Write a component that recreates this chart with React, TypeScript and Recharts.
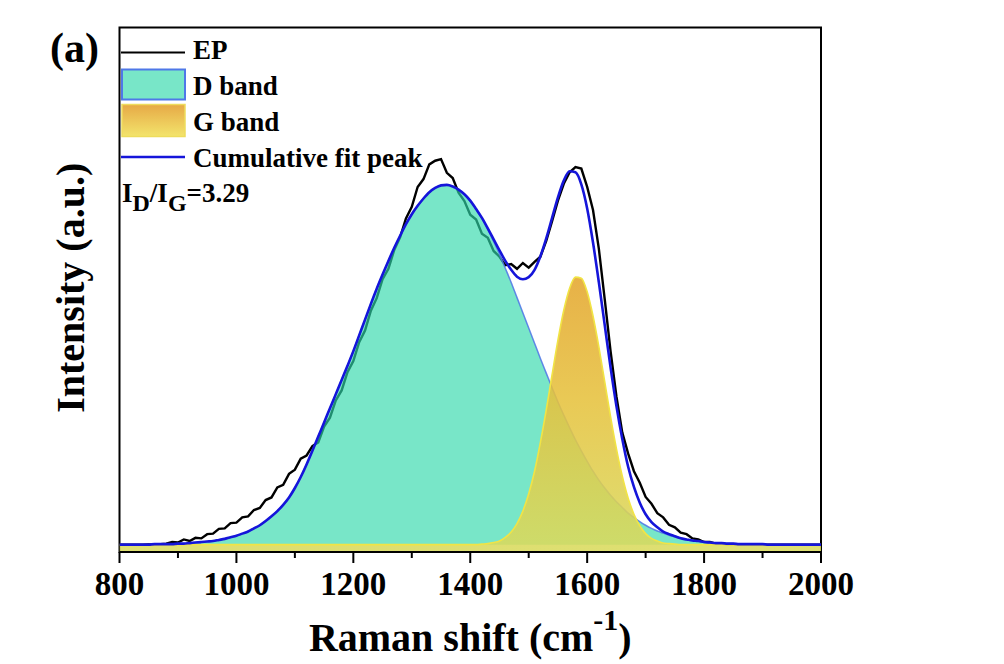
import { Area, ComposedChart, Legend, Line, ReferenceArea, XAxis, YAxis } from "recharts";

const FONT = "'Liberation Serif', 'Times New Roman', Times, serif";

// Raman shift grid (cm-1)
const ramanShift = [
  800, 810, 820, 830, 840, 850, 860, 870, 880, 890,
  900, 910, 920, 930, 940, 950, 960, 970, 980, 990,
  1000, 1010, 1020, 1030, 1040, 1050, 1060, 1070, 1080, 1090,
  1100, 1110, 1120, 1130, 1140, 1150, 1160, 1170, 1180, 1190,
  1200, 1210, 1220, 1230, 1240, 1250, 1260, 1270, 1280, 1290,
  1300, 1310, 1320, 1330, 1340, 1350, 1360, 1370, 1380, 1390,
  1400, 1410, 1420, 1430, 1440, 1450, 1460, 1470, 1480, 1490,
  1500, 1510, 1520, 1530, 1540, 1550, 1560, 1570, 1580, 1590,
  1600, 1610, 1620, 1630, 1640, 1650, 1660, 1670, 1680, 1690,
  1700, 1710, 1720, 1730, 1740, 1750, 1760, 1770, 1780, 1790,
  1800, 1810, 1820, 1830, 1840, 1850, 1860, 1870, 1880, 1890,
  1900, 1910, 1920, 1930, 1940, 1950, 1960, 1970, 1980, 1990,
  2000,
];

// measured spectrum (EP)
const epIntensity = [
  1.4, 1.4, 1.4, 1.4, 1.4, 1.5, 1.4, 1.5, 1.6, 1.9,
  1.8, 2.4, 2.1, 2.7, 2.6, 3.4, 3.5, 4.4, 4.5, 5.5,
  5.6, 6.6, 6.8, 8.0, 8.4, 9.9, 10.4, 12.3, 12.8, 14.9,
  15.7, 17.8, 18.4, 20.2, 20.9, 23.9, 25.6, 28.9, 30.8, 34.3,
  36.4, 40.0, 42.2, 46.0, 48.4, 52.0, 54.0, 57.6, 60.0, 63.6,
  65.8, 69.6, 71.1, 73.9, 74.6, 74.9, 72.3, 71.3, 68.5, 66.9,
  64.3, 63.4, 60.7, 59.9, 57.4, 56.3, 54.7, 54.9, 54.0, 55.1,
  54.2, 55.3, 56.3, 59.3, 63.1, 67.0, 70.2, 72.4, 73.4, 73.1,
  69.6, 65.2, 57.8, 48.2, 38.3, 29.7, 22.8, 18.8, 15.4, 13.2,
  10.5, 9.2, 7.4, 6.6, 5.2, 4.7, 3.7, 3.4, 2.6, 2.4,
  1.9, 1.9, 1.6, 1.6, 1.4, 1.5, 1.4, 1.4, 1.4, 1.4,
  1.4, 1.4, 1.4, 1.4, 1.4, 1.4, 1.4, 1.4, 1.4, 1.4,
  1.4,
];

// fitted D band
const dBand = [
  1.4, 1.4, 1.4, 1.4, 1.4, 1.4, 1.5, 1.5, 1.5, 1.5,
  1.6, 1.6, 1.7, 1.8, 1.9, 2.0, 2.1, 2.3, 2.5, 2.8,
  3.1, 3.5, 3.9, 4.5, 5.1, 5.9, 6.8, 7.8, 9.0, 10.4,
  12.2, 14.3, 16.7, 19.3, 22.0, 24.7, 27.4, 30.1, 32.8, 35.5,
  38.3, 41.3, 44.3, 47.3, 50.2, 52.9, 55.5, 58.0, 60.3, 62.5,
  64.4, 66.0, 67.4, 68.6, 69.4, 69.9, 70.0, 69.7, 69.1, 68.2,
  66.9, 65.4, 63.6, 61.5, 59.2, 56.8, 54.1, 51.4, 48.5, 45.6,
  42.7, 39.8, 36.9, 34.1, 31.3, 28.6, 26.1, 23.7, 21.4, 19.3,
  17.3, 15.4, 13.7, 12.2, 10.8, 9.6, 8.5, 7.4, 6.6, 5.8,
  5.1, 4.5, 4.0, 3.6, 3.2, 2.9, 2.6, 2.4, 2.2, 2.1,
  1.9, 1.8, 1.7, 1.7, 1.6, 1.6, 1.5, 1.5, 1.5, 1.5,
  1.5, 1.4, 1.4, 1.4, 1.4, 1.4, 1.4, 1.4, 1.4, 1.4,
  1.4,
];

// fitted G band
const gBand = [
  1.4, 1.4, 1.4, 1.4, 1.4, 1.4, 1.4, 1.4, 1.4, 1.4,
  1.4, 1.4, 1.4, 1.4, 1.4, 1.4, 1.4, 1.4, 1.4, 1.4,
  1.4, 1.4, 1.4, 1.4, 1.4, 1.4, 1.4, 1.4, 1.4, 1.4,
  1.4, 1.4, 1.4, 1.4, 1.4, 1.4, 1.4, 1.4, 1.4, 1.4,
  1.4, 1.4, 1.4, 1.4, 1.4, 1.4, 1.4, 1.4, 1.4, 1.4,
  1.4, 1.4, 1.4, 1.4, 1.4, 1.4, 1.4, 1.4, 1.4, 1.4,
  1.4, 1.4, 1.5, 1.6, 1.8, 2.1, 2.8, 3.8, 5.4, 7.8,
  11.1, 15.4, 20.9, 27.1, 33.8, 40.4, 46.1, 50.3, 52.4, 52.2,
  49.6, 45.0, 39.1, 32.5, 25.8, 19.7, 14.5, 10.3, 7.2, 5.0,
  3.5, 2.6, 2.1, 1.7, 1.6, 1.5, 1.4, 1.4, 1.4, 1.4,
  1.4, 1.4, 1.4, 1.4, 1.4, 1.4, 1.4, 1.4, 1.4, 1.4,
  1.4, 1.4, 1.4, 1.4, 1.4, 1.4, 1.4, 1.4, 1.4, 1.4,
  1.4,
];

// cumulative fit peak
const cumulativeFit = [
  1.4, 1.4, 1.4, 1.4, 1.4, 1.4, 1.5, 1.5, 1.5, 1.5,
  1.6, 1.6, 1.7, 1.8, 1.9, 2.0, 2.1, 2.3, 2.5, 2.8,
  3.1, 3.5, 3.9, 4.5, 5.1, 5.9, 6.8, 7.8, 9.0, 10.4,
  12.2, 14.3, 16.7, 19.3, 22.0, 24.7, 27.4, 30.1, 32.8, 35.5,
  38.3, 41.3, 44.3, 47.3, 50.2, 52.9, 55.5, 58.0, 60.3, 62.5,
  64.4, 66.0, 67.4, 68.6, 69.4, 69.9, 70.0, 69.7, 69.1, 68.2,
  67.0, 65.4, 63.7, 61.7, 59.6, 57.5, 55.5, 53.8, 52.5, 52.0,
  52.4, 53.8, 56.4, 59.8, 63.7, 67.6, 70.8, 72.6, 72.4, 70.1,
  65.5, 59.0, 51.4, 43.3, 35.2, 27.9, 21.6, 16.3, 12.4, 9.4,
  7.2, 5.7, 4.7, 3.9, 3.4, 3.0, 2.6, 2.4, 2.2, 2.1,
  1.9, 1.8, 1.7, 1.7, 1.6, 1.6, 1.5, 1.5, 1.5, 1.5,
  1.5, 1.4, 1.4, 1.4, 1.4, 1.4, 1.4, 1.4, 1.4, 1.4,
  1.4,
];

const dBaseline = 1.4;
const majorTicks = [800, 1000, 1200, 1400, 1600, 1800, 2000];
const minorTicks = [900, 1100, 1300, 1500, 1700, 1900];
const axisTicks = [...majorTicks, ...minorTicks].sort((a, b) => a - b);
const legendLabels = ["EP", "D band", "G band", "Cumulative fit peak"];
const ratioValue = "3.29";

const chartData = ramanShift.map((shift, i) => ({
  shift,
  ep: epIntensity[i],
  d: dBand[i],
  g: gBand[i],
  fit: cumulativeFit[i],
}));

function RamanTick(props: any) {
  const { x, y, payload } = props;
  const value = payload?.value as number;
  const isMajor = majorTicks.includes(value);
  return (
    <g>
      <line
        x1={x}
        x2={x}
        y1={y}
        y2={y + (isMajor ? 11 : 6)}
        stroke="#000"
        strokeWidth={2}
      />
      {isMajor && (
        <text
          x={x}
          y={y + 43}
          textAnchor="middle"
          fontFamily={FONT}
          fontWeight="bold"
          fontSize={33}
          fill="#000"
        >
          {value}
        </text>
      )}
    </g>
  );
}

function XTitle(props: any) {
  const box = props.viewBox ?? { x: 119.5, y: 552, width: 701.5 };
  const cx = box.x + box.width / 2;
  return (
    <text
      x={cx}
      y={box.y + 99}
      textAnchor="middle"
      fontFamily={FONT}
      fontWeight="bold"
      fontSize={40}
      fill="#000"
    >
      Raman shift (cm
      <tspan dy={-21} fontSize={30}>
        -1
      </tspan>
      <tspan dy={21}>)</tspan>
    </text>
  );
}

function YTitle(props: any) {
  const box = props.viewBox ?? { x: 0, y: 27.5, height: 524.5 };
  const x = box.x + 84;
  const y = box.y + box.height / 2 - 2;
  return (
    <text
      x={x}
      y={y}
      transform={`rotate(-90 ${x} ${y})`}
      textAnchor="middle"
      fontFamily={FONT}
      fontWeight="bold"
      fontSize={40}
      fill="#000"
    >
      Intensity (a.u.)
    </text>
  );
}

function LegendBox() {
  const textProps = {
    fontFamily: FONT,
    fontWeight: "bold" as const,
    fontSize: 27,
    fill: "#000",
  };
  return (
    <svg width={320} height={230} style={{ display: "block", overflow: "visible" }}>
      <defs>
        <linearGradient id="gSwatch" x1="0" y1="0" x2="0" y2="1">
          <stop offset="0%" stopColor="#E6A946" />
          <stop offset="100%" stopColor="#F3E46C" />
        </linearGradient>
      </defs>
      <text x={50} y={62} fontFamily={FONT} fontWeight="bold" fontSize={42} fill="#000">
        (a)
      </text>

      <line x1={121} x2={185} y1={52.5} y2={52.5} stroke="#000" strokeWidth={2} />
      <text x={193} y={59} {...textProps}>
        {legendLabels[0]}
      </text>

      <rect x={122} y={69.5} width={63} height={30} fill="#78E6C8" stroke="#4F78E8" strokeWidth={2} />
      <text x={193} y={95} {...textProps}>
        {legendLabels[1]}
      </text>

      <rect x={122} y={104.5} width={63} height={32} fill="url(#gSwatch)" stroke="#EEDC5C" strokeWidth={1.5} />
      <text x={193} y={131} {...textProps}>
        {legendLabels[2]}
      </text>

      <line x1={121} x2={185} y1={157} y2={157} stroke="#1515DA" strokeWidth={2.5} />
      <text x={193} y={167} {...textProps}>
        {legendLabels[3]}
      </text>

      <text x={122} y={202} fontFamily={FONT} fontWeight="bold" fontSize={27} fill="#000">
        I
        <tspan dy={9} fontSize={24}>
          D
        </tspan>
        <tspan dy={-9}>/I</tspan>
        <tspan dy={9} fontSize={24}>
          G
        </tspan>
        <tspan dy={-9}>={ratioValue}</tspan>
      </text>
    </svg>
  );
}

export default function App() {
  return (
    <div
      style={{
        position: "absolute",
        left: 0,
        top: 0,
        width: 1004,
        height: 664,
        background: "#fff",
      }}
    >
      <ComposedChart
        width={1004}
        height={664}
        data={chartData}
        margin={{ top: 27.5, right: 183, bottom: 52, left: 0 }}
      >
        <defs>
          <linearGradient id="gBandFill" x1="0" y1="0" x2="0" y2="1">
            <stop offset="0%" stopColor="#E4A62E" />
            <stop offset="45%" stopColor="#E6C23E" />
            <stop offset="100%" stopColor="#D9DB5E" />
          </linearGradient>
        </defs>
        <XAxis
          dataKey="shift"
          type="number"
          domain={[800, 2000]}
          ticks={axisTicks}
          interval={0}
          allowDataOverflow
          tickSize={0}
          tickMargin={0}
          tickLine={false}
          axisLine={{ stroke: "#000", strokeWidth: 2 }}
          tick={<RamanTick />}
          height={60}
          label={(p: any) => <XTitle {...p} />}
        />
        <YAxis
          type="number"
          domain={[0, 100]}
          allowDataOverflow
          tick={false}
          tickLine={false}
          axisLine={false}
          width={119.5}
          label={(p: any) => <YTitle {...p} />}
        />
        <Legend
          layout="vertical"
          verticalAlign="middle"
          align="center"
          wrapperStyle={{ left: 0, top: 0, width: 320, height: 230 }}
          content={<LegendBox />}
        />
        <Line
          type="linear"
          dataKey="ep"
          stroke="#000"
          strokeWidth={2.4}
          dot={false}
          activeDot={false}
          isAnimationActive={false}
          zIndex={50}
        />
        <Area
          type="monotone"
          dataKey="d"
          baseValue={dBaseline}
          fill="#2FD9AA"
          fillOpacity={0.65}
          stroke="#4E74E6"
          strokeOpacity={0.85}
          strokeWidth={1.5}
          dot={false}
          activeDot={false}
          isAnimationActive={false}
          zIndex={100}
        />
        <Area
          type="monotone"
          dataKey="g"
          fill="url(#gBandFill)"
          fillOpacity={0.88}
          stroke="#F1E445"
          strokeWidth={1.6}
          dot={false}
          activeDot={false}
          isAnimationActive={false}
          zIndex={110}
        />
        <Line
          type="monotone"
          dataKey="fit"
          stroke="#1515DA"
          strokeWidth={2.6}
          dot={false}
          activeDot={false}
          isAnimationActive={false}
          zIndex={400}
        />
        <ReferenceArea
          x1={800}
          x2={2000}
          y1={0}
          y2={100}
          fill="none"
          fillOpacity={0}
          stroke="#000"
          strokeWidth={2}
        />
      </ComposedChart>
    </div>
  );
}
